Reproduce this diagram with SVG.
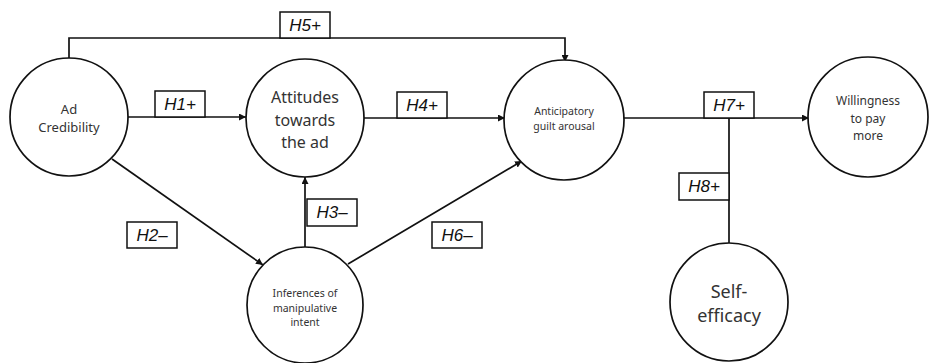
<svg xmlns="http://www.w3.org/2000/svg" width="929" height="363" viewBox="0 0 929 363">
<style>
.node{fill:#fff;stroke:#111;stroke-width:1.7}
.lbl{font-family:"Noto Sans","DejaVu Sans",sans-serif;fill:#333;text-anchor:middle}
.edge{fill:none;stroke:#111;stroke-width:1.7}
.box{fill:#fff;stroke:#111;stroke-width:1.5}
.h{font-family:"Liberation Sans",Arial,sans-serif;font-style:italic;font-size:17px;fill:#111;text-anchor:middle}
</style>
<defs>
<marker id="arr" viewBox="0 0 10 10" refX="10" refY="5" markerWidth="7" markerHeight="7" markerUnits="userSpaceOnUse" orient="auto">
<path d="M0,0 L10,5 L0,10 z" fill="#111"/>
</marker>
</defs>
<rect width="929" height="363" fill="#fff"/>
<g id="connectors">
<polyline class="edge" points="69,58 69,38 565,38 565,62" marker-end="url(#arr)"/>
<line class="edge" x1="128" y1="117" x2="246" y2="117" marker-end="url(#arr)"/>
<line class="edge" x1="364" y1="118" x2="505" y2="118" marker-end="url(#arr)"/>
<line class="edge" x1="112" y1="159" x2="263" y2="265" marker-end="url(#arr)"/>
<line class="edge" x1="305" y1="247" x2="305" y2="177" marker-end="url(#arr)"/>
<line class="edge" x1="348" y1="264" x2="522" y2="161" marker-end="url(#arr)"/>
<line class="edge" x1="624" y1="118" x2="809" y2="118" marker-end="url(#arr)"/>
<line class="edge" x1="729" y1="118" x2="729" y2="243"/>
</g>
<g id="label-H5"><rect class="box" x="280" y="12" width="50" height="26"/><text class="h" x="305" y="31">H5+</text></g>
<g id="label-H1"><rect class="box" x="155" y="91" width="50" height="26"/><text class="h" x="180" y="110">H1+</text></g>
<g id="label-H4"><rect class="box" x="397" y="92" width="50" height="26"/><text class="h" x="422" y="111">H4+</text></g>
<g id="label-H7"><rect class="box" x="704" y="92" width="50" height="26"/><text class="h" x="729" y="111">H7+</text></g>
<g id="label-H8"><rect class="box" x="679" y="173" width="50" height="27"/><text class="h" x="704" y="192">H8+</text></g>
<g id="label-H2"><rect class="box" x="127" y="222" width="50" height="26"/><text class="h" x="152" y="241">H2–</text></g>
<g id="label-H3"><rect class="box" x="307" y="199" width="50" height="27"/><text class="h" x="332" y="218">H3–</text></g>
<g id="label-H6"><rect class="box" x="432" y="222" width="50" height="26"/><text class="h" x="457" y="241">H6–</text></g>
<g id="node-credibility"><circle class="node" cx="69" cy="117" r="59"/>
<text class="lbl" font-size="13" x="69" y="114">Ad</text><text class="lbl" font-size="13" x="69" y="132">Credibility</text></g>
<g id="node-attitudes"><circle class="node" cx="305" cy="118" r="59"/>
<text class="lbl" font-size="16" x="305" y="103">Attitudes</text><text class="lbl" font-size="16" x="305" y="126">towards</text><text class="lbl" font-size="16" x="305" y="148">the ad</text></g>
<g id="node-guilt"><circle class="node" cx="564" cy="120" r="60"/>
<text class="lbl" font-size="10.5" x="564" y="115">Anticipatory</text><text class="lbl" font-size="10.5" x="564" y="130">guilt arousal</text></g>
<g id="node-willingness"><circle class="node" cx="868" cy="117" r="60"/>
<text class="lbl" font-size="12" x="868" y="105">Willingness</text><text class="lbl" font-size="12" x="868" y="123">to pay</text><text class="lbl" font-size="12" x="868" y="140">more</text></g>
<g id="node-inferences"><circle class="node" cx="305" cy="305" r="58"/>
<text class="lbl" font-size="10.5" x="305" y="297">Inferences of</text><text class="lbl" font-size="10.5" x="305" y="312">manipulative</text><text class="lbl" font-size="10.5" x="305" y="326">intent</text></g>
<g id="node-selfefficacy"><circle class="node" cx="729" cy="302" r="59"/>
<text class="lbl" font-size="18" x="729" y="298">Self-</text><text class="lbl" font-size="18" x="729" y="322">efficacy</text></g>
</svg>
